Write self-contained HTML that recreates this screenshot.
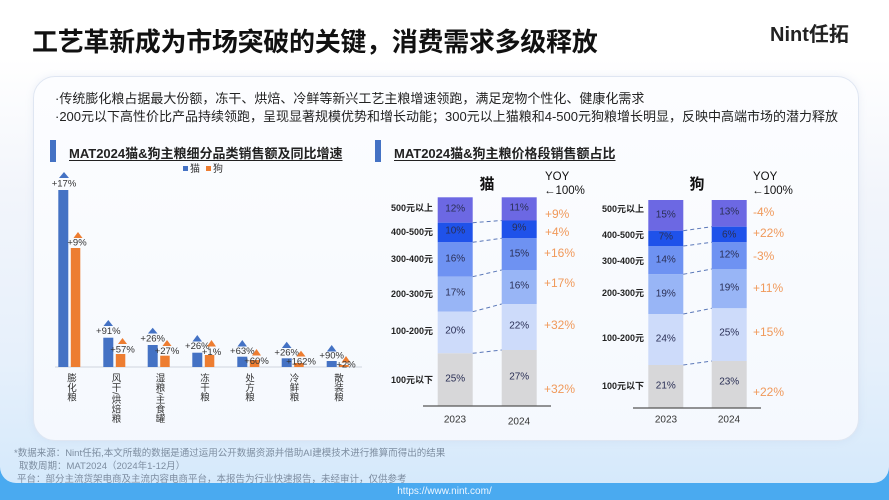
<!DOCTYPE html>
<html><head><meta charset="utf-8">
<style>
*{margin:0;padding:0;box-sizing:border-box}
body{width:889px;height:500px;overflow:hidden;position:relative;font-family:"Liberation Sans","Noto Sans CJK SC",sans-serif;background:#fff}
.bg{position:absolute;left:0;top:0;width:889px;height:500px;background:#4aaaf0}
.outer{position:absolute;left:0;top:0;width:889px;height:483px;border-radius:0 0 16px 16px;background:linear-gradient(180deg,#ffffff 0%,#ffffff 12%,#f2f5fb 40%,#e6f0fb 75%,#d5e9fb 100%)}
.card{position:absolute;left:33px;top:76px;width:826px;height:365px;border-radius:22px;background:linear-gradient(180deg,rgba(252,253,255,0.97),rgba(246,249,254,0.95));border:1px solid #dfe6f2;box-shadow:0 0 8px rgba(150,170,210,0.15)}
.abs{position:absolute;white-space:nowrap}
.title{left:32px;top:22px;font-size:26px;font-weight:bold;color:#111;letter-spacing:-0.3px}
.logo{left:770px;top:18px;font-size:20px;font-weight:bold;color:#222}
.bul{left:55px;font-size:13px;color:#222}
.hbar{position:absolute;width:6px;height:22px;background:#4472c4}
.hd{font-size:13px;font-weight:bold;color:#222;text-decoration:underline;text-underline-offset:2px}
.vl{position:absolute;writing-mode:vertical-rl;font-size:9.5px;color:#333;line-height:10px;width:10px}
.vl .s{font-family:"Liberation Sans",sans-serif}
.foot{font-size:9.5px;color:#7d8da0}
</style></head><body>
<div class="bg"></div>
<div class="outer"></div>
<div class="card"></div>
<div class="abs title">工艺革新成为市场突破的关键，消费需求多级释放</div>
<div class="abs logo">Nint<span style="font-family:'Noto Sans CJK SC',sans-serif">任拓</span></div>
<div class="abs bul" style="top:88px">·传统膨化粮占据最大份额，冻干、烘焙、冷鲜等新兴工艺主粮增速领跑，满足宠物个性化、健康化需求</div>
<div class="abs bul" style="top:106px">·200元以下高性价比产品持续领跑，呈现显著规模优势和增长动能；300元以上猫粮和4-500元狗粮增长明显，反映中高端市场的潜力释放</div>
<div class="hbar" style="left:50px;top:140px"></div>
<div class="abs hd" style="left:69px;top:143px">MAT2024猫&amp;狗主粮细分品类销售额及同比增速</div>
<div class="hbar" style="left:375px;top:140px"></div>
<div class="abs hd" style="left:394px;top:143px">MAT2024猫&amp;狗主粮价格段销售额占比</div>

<svg class="abs" style="left:0;top:0" width="889" height="500" viewBox="0 0 889 500" font-family="Liberation Sans, Noto Sans CJK SC, sans-serif">
<!-- left chart legend -->
<rect x="183" y="166" width="5" height="5" fill="#4472c4"/>
<text x="190" y="172" font-size="10" fill="#333">猫</text>
<rect x="206" y="166" width="5" height="5" fill="#ed7d31"/>
<text x="213" y="172" font-size="10" fill="#333">狗</text>
<line x1="55" y1="367" x2="362" y2="367" stroke="#cfd5de" stroke-width="1"/>
<g font-size="9.5" fill="#333" text-anchor="middle" dominant-baseline="central">
<!-- G1 -->
<rect x="58.3" y="190" width="10" height="177" fill="#4472c4"/>
<rect x="70.8" y="248" width="9.5" height="119" fill="#ed7d31"/>
<polygon points="59,178 64,172 69,178" fill="#4472c4"/><text x="64" y="184">+17%</text>
<polygon points="73.5,238 78,232 82.5,238" fill="#ed7d31"/><text x="77" y="243">+9%</text>
<!-- G2 -->
<rect x="103.3" y="337.7" width="10" height="29.3" fill="#4472c4"/>
<rect x="115.8" y="354" width="9.5" height="13" fill="#ed7d31"/>
<polygon points="103.5,326 108.3,320 113,326" fill="#4472c4"/><text x="108.3" y="331.7">+91%</text>
<polygon points="118,344 122.5,338 127,344" fill="#ed7d31"/><text x="122.5" y="350">+57%</text>
<!-- G3 -->
<rect x="147.7" y="345" width="10" height="22" fill="#4472c4"/>
<rect x="160.2" y="355.7" width="9.5" height="11.3" fill="#ed7d31"/>
<polygon points="147.9,333.5 152.7,327.7 157.5,333.5" fill="#4472c4"/><text x="152.7" y="339">+26%</text>
<polygon points="162.5,346 167,340 171.5,346" fill="#ed7d31"/><text x="167" y="351.7">+27%</text>
<!-- G4 -->
<rect x="192.3" y="352.7" width="10" height="14.3" fill="#4472c4"/>
<rect x="204.8" y="355" width="9.5" height="12" fill="#ed7d31"/>
<polygon points="192.5,341.5 197.3,335 202,341.5" fill="#4472c4"/><text x="197.3" y="346.7">+26%</text>
<polygon points="207,346.5 211.5,340 216,346.5" fill="#ed7d31"/><text x="211.5" y="352.7">+1%</text>
<!-- G5 -->
<rect x="237.3" y="356.7" width="10" height="10.3" fill="#4472c4"/>
<rect x="249.8" y="360" width="9.5" height="7" fill="#ed7d31"/>
<polygon points="237.5,346.5 242.3,340 247,346.5" fill="#4472c4"/><text x="242.3" y="351.7">+63%</text>
<polygon points="252,355.5 256.5,349 261,355.5" fill="#ed7d31"/><text x="256.5" y="361.7">+60%</text>
<!-- G6 -->
<rect x="281.7" y="358.3" width="10" height="8.7" fill="#4472c4"/>
<rect x="294.2" y="363" width="9.5" height="4" fill="#ed7d31"/>
<polygon points="281.9,348 286.7,341.7 291.5,348" fill="#4472c4"/><text x="286.7" y="353">+26%</text>
<polygon points="296.5,356.5 301,350.7 305.5,356.5" fill="#ed7d31"/><text x="301" y="362">+162%</text>
<!-- G7 -->
<rect x="326.7" y="361" width="10" height="6" fill="#4472c4"/>
<rect x="339.2" y="365" width="9.5" height="2" fill="#ed7d31"/>
<polygon points="326.9,351.5 331.7,345 336.5,351.5" fill="#4472c4"/><text x="331.7" y="356">+90%</text>
<polygon points="341.5,362.5 346,356 350.5,362.5" fill="#ed7d31"/><text x="346" y="365">+2%</text>
</g>

<!-- CAT price chart -->
<text x="487" y="189" font-size="15" font-weight="bold" fill="#111" text-anchor="middle">猫</text>
<g>
<rect x="437.7" y="197.3" width="35" height="25.4" fill="#6c68e3"/>
<rect x="437.7" y="222.7" width="35" height="19.6" fill="#1f52ea"/>
<rect x="437.7" y="242.3" width="35" height="34.4" fill="#6e92f2"/>
<rect x="437.7" y="276.7" width="35" height="35" fill="#98b5f6"/>
<rect x="437.7" y="311.7" width="35" height="41.6" fill="#cddbfa"/>
<rect x="437.7" y="353.3" width="35" height="52.4" fill="#d7d7d9"/>
<rect x="501.7" y="197.3" width="35" height="23.2" fill="#6c68e3"/>
<rect x="501.7" y="220.5" width="35" height="17.8" fill="#1f52ea"/>
<rect x="501.7" y="238.3" width="35" height="31.7" fill="#6e92f2"/>
<rect x="501.7" y="270" width="35" height="34" fill="#98b5f6"/>
<rect x="501.7" y="304" width="35" height="46" fill="#cddbfa"/>
<rect x="501.7" y="350" width="35" height="55.7" fill="#d7d7d9"/>
</g>
<g stroke="#5b78b8" stroke-width="1" stroke-dasharray="4,3">
<line x1="472.7" y1="222.7" x2="501.7" y2="220.5"/>
<line x1="472.7" y1="242.3" x2="501.7" y2="238.3"/>
<line x1="472.7" y1="276.7" x2="501.7" y2="270"/>
<line x1="472.7" y1="311.7" x2="501.7" y2="304"/>
<line x1="472.7" y1="353.3" x2="501.7" y2="350"/>
</g>
<line x1="423" y1="406" x2="551" y2="406" stroke="#555" stroke-width="1.2"/>
<g font-size="10" fill="#2a2f55" text-anchor="middle" dominant-baseline="central">
<text x="455.2" y="209">12%</text><text x="455.2" y="231">10%</text><text x="455.2" y="259">16%</text>
<text x="455.2" y="293">17%</text><text x="455.2" y="331">20%</text><text x="455.2" y="379">25%</text>
<text x="519.2" y="208">11%</text><text x="519.2" y="228">9%</text><text x="519.2" y="254">15%</text>
<text x="519.2" y="286">16%</text><text x="519.2" y="326">22%</text><text x="519.2" y="377">27%</text>
</g>
<g font-size="9" font-weight="bold" fill="#222" text-anchor="end" dominant-baseline="central">
<text x="433" y="208">500元以上</text><text x="433" y="232">400-500元</text><text x="433" y="259">300-400元</text>
<text x="433" y="294">200-300元</text><text x="433" y="331">100-200元</text><text x="433" y="380">100元以下</text>
</g>
<g font-size="10" fill="#333" text-anchor="middle" dominant-baseline="central">
<text x="455" y="420">2023</text><text x="519" y="422">2024</text>
</g>
<g font-size="11.5" fill="#111" dominant-baseline="central">
<text x="545" y="177">YOY</text><text x="544" y="191">←100%</text>
</g>
<g font-size="12" fill="#f0995a" dominant-baseline="central">
<text x="545" y="214">+9%</text><text x="545" y="232">+4%</text><text x="544" y="253">+16%</text>
<text x="544" y="283">+17%</text><text x="544" y="325">+32%</text><text x="544" y="389">+32%</text>
</g>

<!-- DOG price chart -->
<text x="697" y="189" font-size="15" font-weight="bold" fill="#111" text-anchor="middle">狗</text>
<g>
<rect x="648.3" y="200" width="35" height="30.7" fill="#6c68e3"/>
<rect x="648.3" y="230.7" width="35" height="15.3" fill="#1f52ea"/>
<rect x="648.3" y="246" width="35" height="28.3" fill="#6e92f2"/>
<rect x="648.3" y="274.3" width="35" height="39.7" fill="#98b5f6"/>
<rect x="648.3" y="314" width="35" height="51" fill="#cddbfa"/>
<rect x="648.3" y="365" width="35" height="42.7" fill="#d7d7d9"/>
<rect x="711.7" y="200" width="35" height="26.7" fill="#6c68e3"/>
<rect x="711.7" y="226.7" width="35" height="15.6" fill="#1f52ea"/>
<rect x="711.7" y="242.3" width="35" height="26.7" fill="#6e92f2"/>
<rect x="711.7" y="269" width="35" height="39.3" fill="#98b5f6"/>
<rect x="711.7" y="308.3" width="35" height="52.7" fill="#cddbfa"/>
<rect x="711.7" y="361" width="35" height="46.7" fill="#d7d7d9"/>
</g>
<g stroke="#5b78b8" stroke-width="1" stroke-dasharray="4,3">
<line x1="683.3" y1="230.7" x2="711.7" y2="226.7"/>
<line x1="683.3" y1="246" x2="711.7" y2="242.3"/>
<line x1="683.3" y1="274.3" x2="711.7" y2="269"/>
<line x1="683.3" y1="314" x2="711.7" y2="308.3"/>
<line x1="683.3" y1="365" x2="711.7" y2="361"/>
</g>
<line x1="633" y1="408" x2="761" y2="408" stroke="#555" stroke-width="1.2"/>
<g font-size="10" fill="#2a2f55" text-anchor="middle" dominant-baseline="central">
<text x="665.8" y="215">15%</text><text x="665.8" y="237">7%</text><text x="665.8" y="260">14%</text>
<text x="665.8" y="294">19%</text><text x="665.8" y="339">24%</text><text x="665.8" y="386">21%</text>
<text x="729.2" y="212">13%</text><text x="729.2" y="235">6%</text><text x="729.2" y="255">12%</text>
<text x="729.2" y="288">19%</text><text x="729.2" y="333">25%</text><text x="729.2" y="382">23%</text>
</g>
<g font-size="9" font-weight="bold" fill="#222" text-anchor="end" dominant-baseline="central">
<text x="644" y="209">500元以上</text><text x="644" y="235">400-500元</text><text x="644" y="261">300-400元</text>
<text x="644" y="293">200-300元</text><text x="644" y="338">100-200元</text><text x="644" y="386">100元以下</text>
</g>
<g font-size="10" fill="#333" text-anchor="middle" dominant-baseline="central">
<text x="666" y="420">2023</text><text x="729" y="420">2024</text>
</g>
<g font-size="11.5" fill="#111" dominant-baseline="central">
<text x="753" y="177">YOY</text><text x="752" y="191">←100%</text>
</g>
<g font-size="12" fill="#f0995a" dominant-baseline="central">
<text x="753" y="212">-4%</text><text x="753" y="233">+22%</text><text x="753" y="256">-3%</text>
<text x="753" y="288">+11%</text><text x="753" y="332">+15%</text><text x="753" y="392">+22%</text>
</g>
</svg>

<!-- vertical category labels -->
<div class="vl" style="left:65px;top:373px">膨化粮</div>
<div class="vl" style="left:109.5px;top:373px">风干<span class="s">/</span>烘焙粮</div>
<div class="vl" style="left:153.5px;top:373px">湿粮<span class="s">/</span>主食罐</div>
<div class="vl" style="left:198px;top:373px">冻干粮</div>
<div class="vl" style="left:243px;top:373px">处方粮</div>
<div class="vl" style="left:287.5px;top:373px">冷鲜粮</div>
<div class="vl" style="left:332px;top:373px">散装粮</div>

<div class="abs foot" style="left:14px;top:445px">*数据来源：Nint任拓,本文所载的数据是通过运用公开数据资源并借助AI建模技术进行推算而得出的结果</div>
<div class="abs foot" style="left:19px;top:458px">取数周期：MAT2024（2024年1-12月）</div>
<div class="abs foot" style="left:17px;top:471px">平台：部分主流货架电商及主流内容电商平台，本报告为行业快速报告，未经审计，仅供参考</div>
<div class="abs" style="left:0;width:889px;top:486px;text-align:center;font-size:10px;color:#eef6ff">https://www.nint.com/</div>
</body></html>
